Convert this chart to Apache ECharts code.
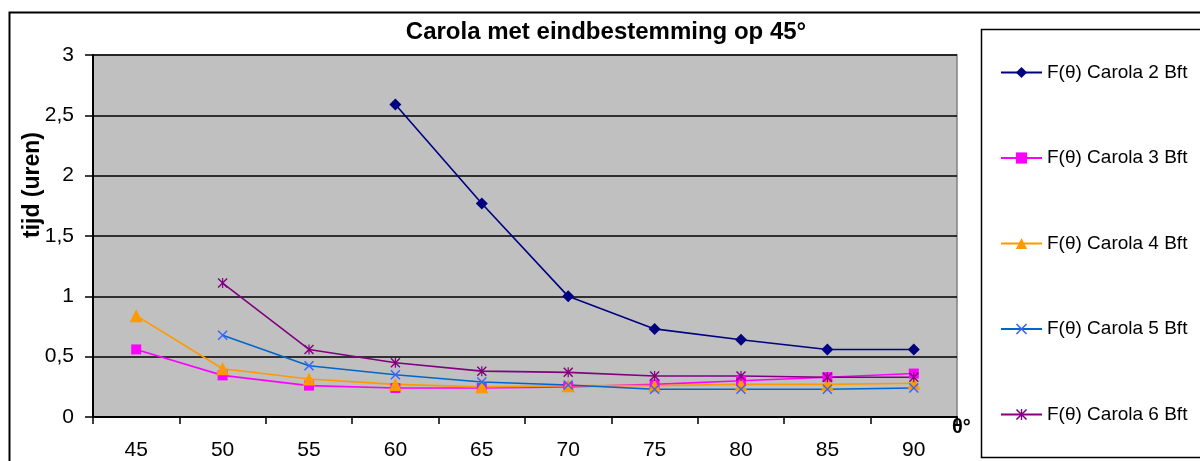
<!DOCTYPE html>
<html>
<head>
<meta charset="utf-8">
<script src="https://cdn.jsdelivr.net/npm/echarts@6/dist/echarts.min.js"></script>
<style>
html,body{margin:0;padding:0;background:#fff;}
#c{width:1200px;height:461px;}
</style>
</head>
<body>
<div id="c"></div>
<script>
var categories = ['45','50','55','60','65','70','75','80','85','90'];
var seriesNames = ['F(\u03b8) Carola 2 Bft','F(\u03b8) Carola 3 Bft','F(\u03b8) Carola 4 Bft','F(\u03b8) Carola 5 Bft','F(\u03b8) Carola 6 Bft'];
var bft2 = [null, null, null, 2.59, 1.77, 1.00, 0.73, 0.64, 0.56, 0.56];
var bft3 = [0.56, 0.345, 0.26, 0.24, 0.24, 0.25, 0.27, 0.30, 0.33, 0.36];
var bft4 = [0.84, 0.40, 0.315, 0.27, 0.25, 0.26, 0.26, 0.27, 0.27, 0.28];
var bft5 = [null, 0.677, 0.425, 0.35, 0.29, 0.265, 0.23, 0.23, 0.23, 0.24];
var bft6 = [null, 1.11, 0.56, 0.45, 0.38, 0.37, 0.34, 0.34, 0.33, 0.33];

var xPath = 'path://M0,1 L1,0 L5,4 L9,0 L10,1 L6,5 L10,9 L9,10 L5,6 L1,10 L0,9 L4,5 Z';
var starPath = 'path://M0,1 L1,0 L5,4 L9,0 L10,1 L6,5 L10,9 L9,10 L5,6 L1,10 L0,9 L4,5 Z M4.4,0 L5.6,0 L5.6,10 L4.4,10 Z';
var FONT = 'Arial, "Liberation Sans", sans-serif';

function mk(name, data, color, lineColor, symbol, size) {
  return {
    name: name, type: 'line', data: data, connectNulls: false,
    symbol: symbol, symbolSize: size, showAllSymbol: true,
    itemStyle: {color: color},
    lineStyle: {color: lineColor, width: 1.6},
    emphasis: {disabled: true},
    animation: false
  };
}

var chart = echarts.init(document.getElementById('c'), null, {renderer: 'canvas'});
chart.setOption({
  animation: false,
  backgroundColor: '#ffffff',
  textStyle: {fontFamily: FONT},
  title: {
    text: 'Carola met eindbestemming op 45\u00b0',
    left: 606, textAlign: 'center', top: 20, padding: 0,
    textStyle: {fontSize: 24, fontWeight: 'bold', color: '#000', fontFamily: FONT}
  },
  grid: {
    left: 93, right: 243, top: 55, bottom: 44,
    show: true, backgroundColor: '#C0C0C0', borderColor: '#808080', borderWidth: 1.5
  },
  legend: {
    orient: 'vertical', left: 1000, top: 62, padding: 0,
    itemWidth: 41, itemHeight: 14, itemGap: 64.5,
    data: seriesNames,
    textStyle: {fontSize: 19, color: '#000', lineHeight: 21, fontFamily: FONT},
    selectedMode: false
  },
  xAxis: {
    type: 'category', data: categories, boundaryGap: true,
    name: '\u03b8\u00b0', nameLocation: 'end', nameGap: -5,
    nameTextStyle: {fontSize: 20, fontWeight: 'bold', color: '#000', fontFamily: FONT, verticalAlign: 'top', align: 'left', padding: [0,0,0,0]},
    axisLine: {show: true, lineStyle: {color: '#000', width: 2}},
    axisTick: {show: true, inside: false, length: 7, alignWithLabel: false, lineStyle: {color: '#000', width: 1.5}},
    axisLabel: {fontSize: 21, color: '#000', fontFamily: FONT, margin: 23},
    splitLine: {show: false}
  },
  yAxis: {
    type: 'value', min: 0, max: 3, interval: 0.5,
    axisLine: {show: true, lineStyle: {color: '#000', width: 2}},
    axisTick: {show: true, inside: false, length: 8, lineStyle: {color: '#000', width: 1.5}},
    axisLabel: {fontSize: 21, color: '#000', fontFamily: FONT, margin: 19, formatter: function (v) { return String(v).replace('.', ','); }},
    splitLine: {show: true, lineStyle: {color: '#000', width: 1.6}}
  },
  graphic: [
    {type: 'rect', shape: {x: 9.5, y: 12.5, width: 1300, height: 600}, style: {fill: null, stroke: '#000', lineWidth: 2}, silent: true, z: -1},
    {type: 'rect', shape: {x: 981.5, y: 29.5, width: 300, height: 428}, style: {fill: '#fff', stroke: '#000', lineWidth: 1.5}, silent: true, z: -1},
    {type: 'text', x: 33, y: 185, rotation: Math.PI / 2,
     style: {text: 'tijd (uren)', fill: '#000', font: 'bold 23px Arial, "Liberation Sans", sans-serif', textAlign: 'center', textVerticalAlign: 'middle'}, silent: true}
  ],
  series: [
    mk(seriesNames[0], bft2, '#000080', '#000080', 'diamond', 12),
    mk(seriesNames[1], bft3, '#FF00FF', '#FF00FF', 'rect', 10),
    mk(seriesNames[2], bft4, '#FF9900', '#FF9900', 'triangle', 13),
    mk(seriesNames[3], bft5, '#3366FF', '#0066CC', xPath, 10),
    mk(seriesNames[4], bft6, '#800080', '#800080', starPath, 10)
  ]
});
</script>
</body>
</html>
